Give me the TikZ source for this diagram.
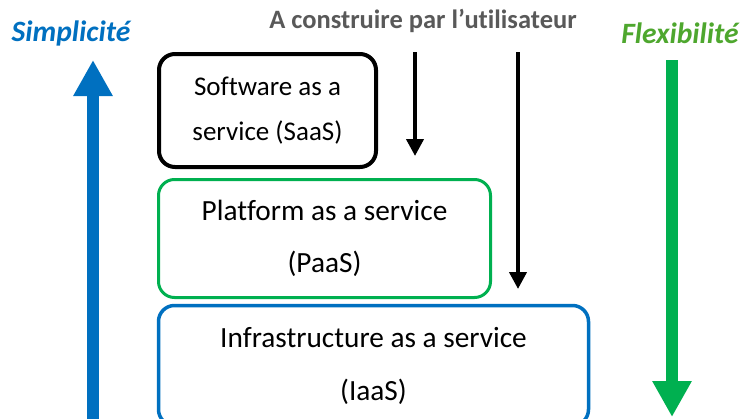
\documentclass[tikz,border=0pt]{standalone}
\usepackage{fontspec}
\setmainfont{Carlito}[Ligatures={NoCommon}]
\usetikzlibrary{arrows.meta}
\definecolor{cblue}{HTML}{0070C0}
\definecolor{cgreen}{HTML}{00B050}
\definecolor{tgreen}{HTML}{4EA72E}
\definecolor{tgray}{HTML}{595959}
\tikzset{
  layer/.style={draw, rounded corners=16pt, align=center, inner sep=0pt},
  bigarrow/.style={line width=12pt, -{Triangle[width=37pt,length=36pt]}},
  userarrow/.style={line width=4pt, black, -{Triangle[width=17pt,length=17pt]}},
  sidelabel/.style={font=\fontsize{29.5}{34}\selectfont\bfseries\itshape},
}
\begin{document}
\begin{tikzpicture}[x=1pt,y=-1pt]
  \clip (0,0) rectangle (742,418);
  \fill[white] (0,0) rectangle (742,418);

  % headings
  \node[sidelabel, text=cblue] (simp) at (71,33) {Simplicité};
  \node[sidelabel, text=tgreen] (flex) at (680,33) {Flexibilité};
  \node[font=\fontsize{26.5}{30}\selectfont\bfseries, text=tgray] (user) at (423,21)
    {A construire par l’utilisateur};

  % service layers
  \node[layer, line width=4pt, minimum width=217pt, minimum height=113pt,
    font=\fontsize{27}{45}\selectfont]
    (saas) at (267.5,110.5) {Software as a\\service (SaaS)};
  \node[layer, line width=3pt, draw=cgreen, minimum width=332pt, minimum height=118pt,
    font=\fontsize{29.3}{52}\selectfont]
    (paas) at (324.5,238.5) {Platform as a service\\(PaaS)};
  \node[layer, line width=3.5pt, draw=cblue, minimum width=430pt, minimum height=120pt,
    font=\fontsize{29.3}{53}\selectfont]
    (iaas) at (373.5,365.5) {Infrastructure as a service\\(IaaS)};

  % arrow end points
  \coordinate (sBot) at (93,430);
  \coordinate (sTop) at (93,60);
  \coordinate (fTop) at (672,60);
  \coordinate (fBot) at (672,417);
  \coordinate (u1a) at (415,52);
  \coordinate (u1b) at (415,156);
  \coordinate (u2a) at (518,52);
  \coordinate (u2b) at (518,289);

  \draw[bigarrow, cblue] (sBot) -- (sTop);
  \draw[bigarrow, cgreen] (fTop) -- (fBot);
  \draw[userarrow] (u1a) -- (u1b);
  \draw[userarrow] (u2a) -- (u2b);
\end{tikzpicture}
\end{document}
